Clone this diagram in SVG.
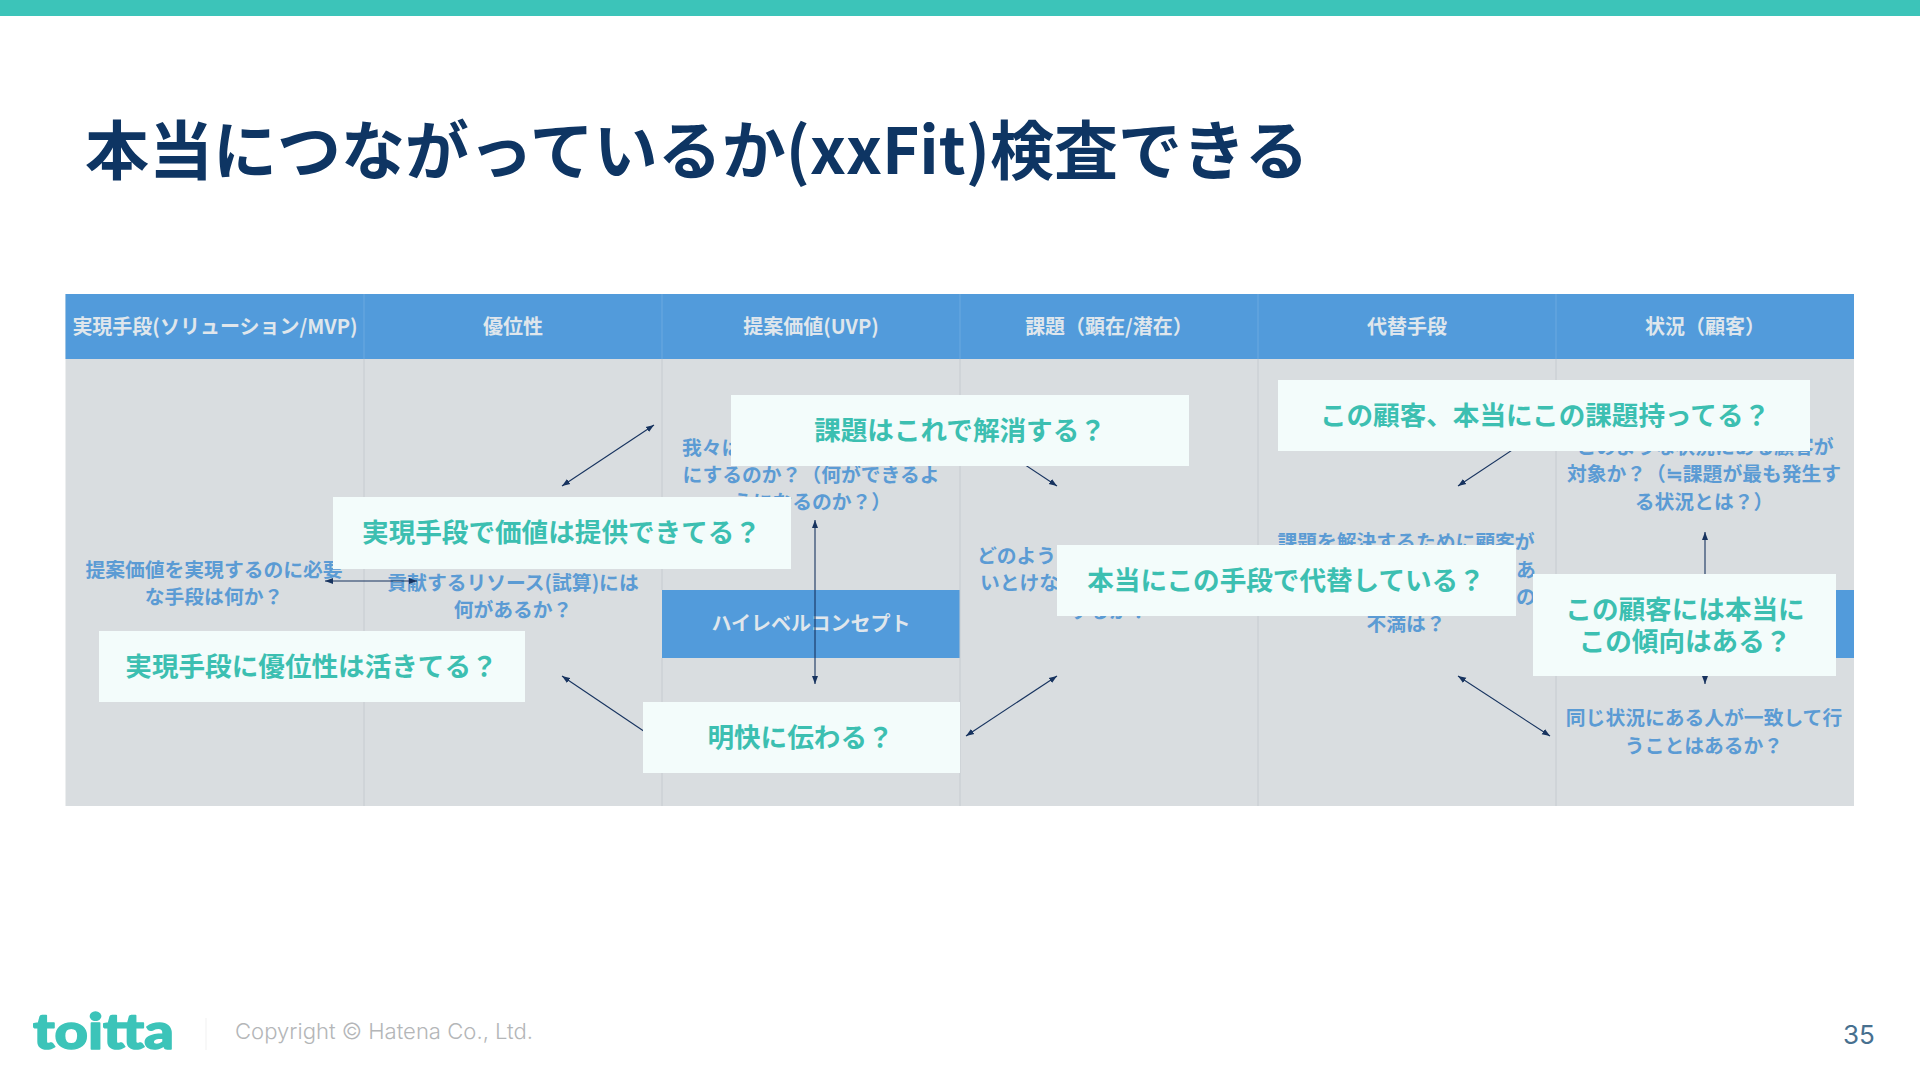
<svg xmlns="http://www.w3.org/2000/svg" width="1920" height="1080" viewBox="0 0 1920 1080">
<style>
text{font-family:"Noto Sans CJK JP","Noto Sans",sans-serif}
.title{font-size:64px;font-weight:700;fill:#0e3563}
.hd{font-size:20px;font-weight:700;fill:#dfe6ec;text-anchor:middle}
.cell{font-size:19.8px;font-weight:700;fill:#5b9bd4;text-anchor:middle}
.l{text-anchor:start}
.band{fill:#529bdb}
.div{stroke:#c6cbd0;stroke-width:1}
.hdiv{stroke:#6ba9e0;stroke-width:1}
.conn{stroke:#17335f;stroke-width:1.1;fill:none;marker-start:url(#ah);marker-end:url(#ah)}
.box{fill:#f3fcfb}
.bt{font-size:26.6px;font-weight:700;fill:#3cbfb1;text-anchor:middle}
</style>
<defs>
<marker id="ah" markerUnits="userSpaceOnUse" markerWidth="9" markerHeight="7" refX="8" refY="3.5" orient="auto-start-reverse"><path d="M0 0.5L8 3.5L0 6.5Z" fill="#17335f"/></marker>
</defs>
<rect width="1920" height="1080" fill="#fff"/>
<rect id="top-bar" width="1920" height="16" fill="#3cc4b9"/>
<text id="title" class="title" x="85" y="174">本当につながっているか(xxFit)検査できる</text>

<g id="canvas">
<rect x="65.5" y="294" width="1788.5" height="512" fill="#d9dde0"/>
<rect class="band" x="65.5" y="294" width="1788.5" height="65"/>
<rect class="band" x="662" y="590" width="298" height="68"/>
<rect class="band" x="1556" y="590" width="298" height="68"/>
<path class="div" d="M364 359V806M662 359V590M662 658V806M960 359V806M1258 359V806M1556 359V806"/>
<path class="hdiv" d="M364 294V359M662 294V359M960 294V359M1258 294V359M1556 294V359"/>
</g>

<g id="col-1">
<text class="hd" x="215" y="333.5">実現手段(ソリューション/MVP)</text>
<text class="cell" x="214" y="577">提案価値を実現するのに必要</text>
<text class="cell" x="214" y="604">な手段は何か？</text>
</g>
<g id="col-2">
<text class="hd" x="513" y="333.5">優位性</text>
<text class="cell" x="513" y="590">貢献するリソース(試算)には</text>
<text class="cell" x="513" y="617">何があるか？</text>
</g>
<g id="col-3">
<text class="hd" x="811" y="333.5">提案価値(UVP)</text>
<text class="cell l" x="682" y="455">我々は</text>
<text class="cell" x="811" y="482">にするのか？（何ができるよ</text>
<text class="cell" x="812" y="509">うになるのか？）</text>
<text x="811" y="631" style="font-size:20px;font-weight:700;fill:#dfe6ec;text-anchor:middle">ハイレベルコンセプト</text>
</g>
<g id="col-4">
<text class="hd" x="1109" y="333.5">課題（顕在/潜在）</text>
<text class="cell l" x="977" y="563">どのよう</text>
<text class="cell l" x="980" y="590">いとけな</text>
<text class="cell" x="1109" y="618">するか？</text>
</g>
<g id="col-5">
<text class="hd" x="1407" y="333.5">代替手段</text>
<text class="cell" x="1406" y="549">課題を解決するために顧客が</text>
<text class="cell l" x="1516" y="577">あ</text>
<text class="cell l" x="1516" y="604">の</text>
<text class="cell" x="1406" y="631">不満は？</text>
</g>
<g id="col-6">
<text class="hd" x="1705" y="333.5">状況（顧客）</text>
<text class="cell" x="1705" y="454">このような状況にある顧客が</text>
<text class="cell" x="1704" y="481">対象か？（≒課題が最も発生す</text>
<text class="cell" x="1704" y="509">る状況とは？）</text>
<text class="cell" x="1704" y="725">同じ状況にある人が一致して行</text>
<text class="cell" x="1704" y="753">うことはあるか？</text>
</g>

<g id="connectors">
<line class="conn" x1="654" y1="425" x2="562" y2="486"/>
<line class="conn" x1="325" y1="581" x2="417" y2="581"/>
<line class="conn" x1="562" y1="676" x2="654" y2="738"/>
<line class="conn" x1="815" y1="520" x2="815" y2="684"/>
<line class="conn" x1="965" y1="425" x2="1057" y2="486"/>
<line class="conn" x1="1057" y1="676" x2="966" y2="736"/>
<line class="conn" x1="1550" y1="425" x2="1458" y2="486"/>
<line class="conn" x1="1458" y1="676" x2="1550" y2="736"/>
<line class="conn" x1="1705" y1="532" x2="1705" y2="684"/>
</g>

<g id="q-problem"><rect class="box" x="731" y="395" width="458" height="71"/><text class="bt" x="960" y="440">課題はこれで解消する？</text></g>
<g id="q-customer"><rect class="box" x="1278" y="380" width="532" height="71"/><text class="bt" x="1545" y="425">この顧客、本当にこの課題持ってる？</text></g>
<g id="q-value"><rect class="box" x="333" y="497" width="458" height="72"/><text class="bt" x="561.5" y="542">実現手段で価値は提供できてる？</text></g>
<g id="q-alt"><rect class="box" x="1057" y="545" width="459" height="71"/><text class="bt" x="1286" y="590">本当にこの手段で代替している？</text></g>
<g id="q-trend"><rect class="box" x="1533" y="574" width="303" height="102"/><text class="bt"><tspan x="1685" y="619">この顧客には本当に</tspan><tspan x="1685" y="651">この傾向はある？</tspan></text></g>
<g id="q-adv"><rect class="box" x="99" y="631" width="426" height="71"/><text class="bt" x="311.5" y="676">実現手段に優位性は活きてる？</text></g>
<g id="q-clear"><rect class="box" x="643" y="702" width="317" height="71"/><text class="bt" x="800.5" y="747">明快に伝わる？</text></g>

<g id="footer">
<text x="33" y="1049" textLength="141" lengthAdjust="spacingAndGlyphs" style="font-family:'Lato',sans-serif;font-size:50px;font-weight:900;fill:#3cc4b9;stroke:#3cc4b9;stroke-width:1.5;stroke-linejoin:round">toitta</text>
<line x1="206" y1="1018" x2="206" y2="1050" stroke="#f1f1f1"/>
<text x="235" y="1039" textLength="298" lengthAdjust="spacingAndGlyphs" style="font-family:'Inter',sans-serif;font-size:22px;font-weight:300;fill:#b4b6b8">Copyright © Hatena Co., Ltd.</text>
<text x="1843" y="1044" style="font-family:'Inter',sans-serif;font-size:26px;fill:#47708f">35</text>
</g>
</svg>
